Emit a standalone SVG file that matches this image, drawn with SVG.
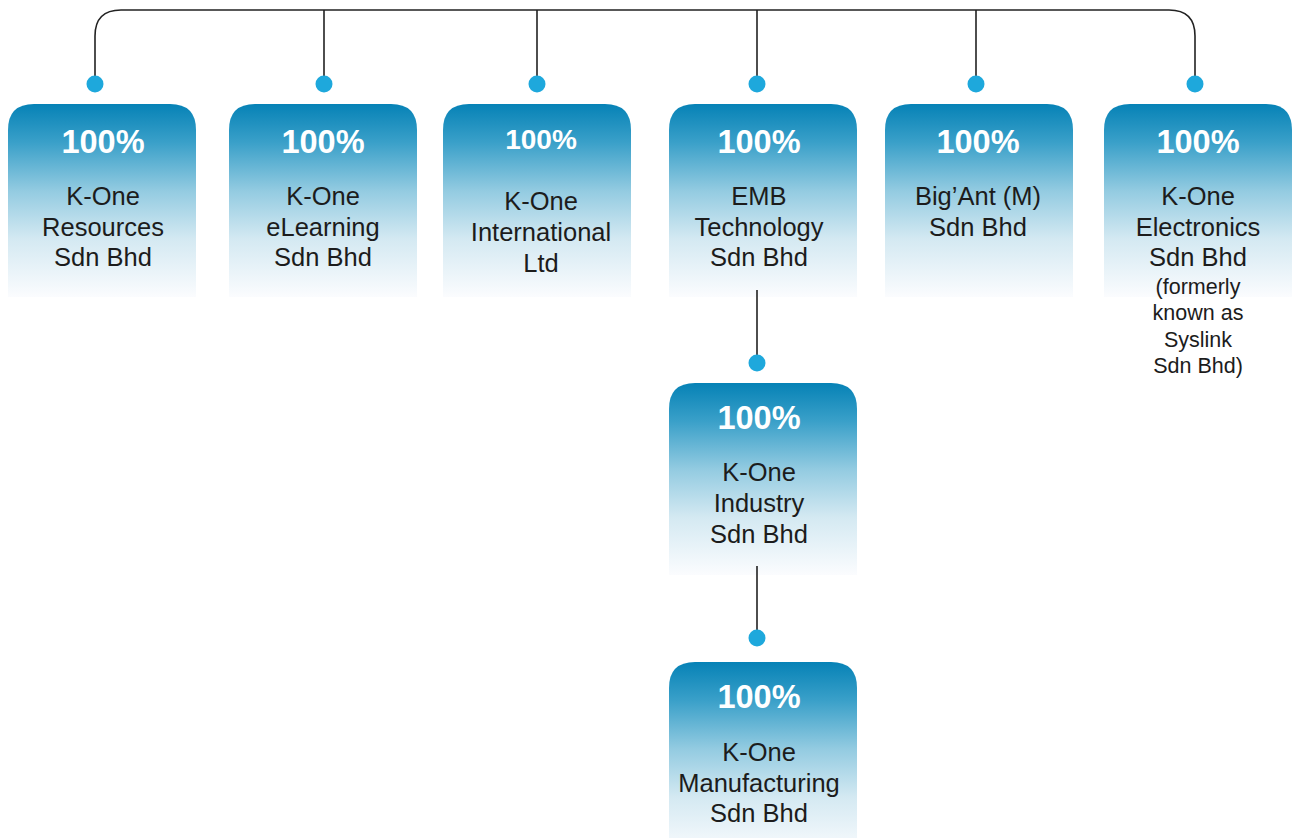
<svg xmlns="http://www.w3.org/2000/svg" width="1293" height="838" viewBox="0 0 1293 838">
<defs>
<linearGradient id="g" x1="0" y1="0" x2="0" y2="1">
<stop offset="0" stop-color="#0682b6"/>
<stop offset="0.2" stop-color="#3aa0c9"/>
<stop offset="0.45" stop-color="#93cbe1"/>
<stop offset="0.7" stop-color="#d4e9f2"/>
<stop offset="1" stop-color="#fbfcfe"/>
</linearGradient>
<style>
.box{fill:url(#g)}
.pct{font-family:"Liberation Sans",Arial,sans-serif;font-weight:bold;font-size:32.5px;fill:#ffffff;text-anchor:middle}
.nm{font-family:"Liberation Sans",Arial,sans-serif;font-size:25.5px;fill:#1c1c1c;text-anchor:middle}
.sm{font-family:"Liberation Sans",Arial,sans-serif;font-size:21.5px;fill:#1c1c1c;text-anchor:middle}
.ln{fill:none;stroke:#222222;stroke-width:1.6}
.dot{fill:#1ea8dc}
</style>
</defs>
<rect width="1293" height="838" fill="#ffffff"/>
<g id="resources">
<path class="box" d="M8,297 V130 Q8,104 34,104 H170 Q196,104 196,130 V297 Z"/>
<text class="pct" x="103" y="153">100%</text>
<text class="nm" x="103" y="205">K-One</text>
<text class="nm" x="103" y="236">Resources</text>
<text class="nm" x="103" y="266">Sdn Bhd</text>
</g>
<g id="elearning">
<path class="box" d="M229,297 V130 Q229,104 255,104 H391 Q417,104 417,130 V297 Z"/>
<text class="pct" x="323" y="153">100%</text>
<text class="nm" x="323" y="205">K-One</text>
<text class="nm" x="323" y="236">eLearning</text>
<text class="nm" x="323" y="266">Sdn Bhd</text>
</g>
<g id="international">
<path class="box" d="M443,297 V130 Q443,104 469,104 H605 Q631,104 631,130 V297 Z"/>
<text class="pct" x="541" y="149" style="font-size:28px">100%</text>
<text class="nm" x="541" y="210">K-One</text>
<text class="nm" x="541" y="241">International</text>
<text class="nm" x="541" y="272">Ltd</text>
</g>
<g id="emb">
<path class="box" d="M669,297 V130 Q669,104 695,104 H831 Q857,104 857,130 V297 Z"/>
<text class="pct" x="759" y="153">100%</text>
<text class="nm" x="759" y="205">EMB</text>
<text class="nm" x="759" y="236">Technology</text>
<text class="nm" x="759" y="266">Sdn Bhd</text>
</g>
<g id="bigant">
<path class="box" d="M885,297 V130 Q885,104 911,104 H1047 Q1073,104 1073,130 V297 Z"/>
<text class="pct" x="978" y="153">100%</text>
<text class="nm" x="978" y="205">Big’Ant (M)</text>
<text class="nm" x="978" y="236">Sdn Bhd</text>
</g>
<g id="electronics">
<path class="box" d="M1104,297 V130 Q1104,104 1130,104 H1266 Q1292,104 1292,130 V297 Z"/>
<text class="pct" x="1198" y="153">100%</text>
<text class="nm" x="1198" y="205">K-One</text>
<text class="nm" x="1198" y="236">Electronics</text>
<text class="nm" x="1198" y="266">Sdn Bhd</text>
<text class="sm" x="1198" y="294">(formerly</text>
<text class="sm" x="1198" y="320">known as</text>
<text class="sm" x="1198" y="347">Syslink</text>
<text class="sm" x="1198" y="373">Sdn Bhd)</text>
</g>
<g id="industry">
<path class="box" d="M669,575 V409 Q669,383 695,383 H831 Q857,383 857,409 V575 Z"/>
<text class="pct" x="759" y="429">100%</text>
<text class="nm" x="759" y="481">K-One</text>
<text class="nm" x="759" y="512">Industry</text>
<text class="nm" x="759" y="543">Sdn Bhd</text>
</g>
<g id="manufacturing">
<path class="box" d="M669,855 V688 Q669,662 695,662 H831 Q857,662 857,688 V855 Z"/>
<text class="pct" x="759" y="708">100%</text>
<text class="nm" x="759" y="761">K-One</text>
<text class="nm" x="759" y="792">Manufacturing</text>
<text class="nm" x="759" y="822">Sdn Bhd</text>
</g>
<g id="connectors">
<path class="ln" d="M95,84 V36 Q95,10 121,10 H1169 Q1195,10 1195,36 V84"/>
<path class="ln" d="M324,10 V84 M537,10 V84 M757,10 V84 M976,10 V84"/>
<path class="ln" d="M757,290 V363 M757,566 V638"/>
<circle class="dot" cx="95" cy="84" r="8.5"/>
<circle class="dot" cx="324" cy="84" r="8.5"/>
<circle class="dot" cx="537" cy="84" r="8.5"/>
<circle class="dot" cx="757" cy="84" r="8.5"/>
<circle class="dot" cx="976" cy="84" r="8.5"/>
<circle class="dot" cx="1195" cy="84" r="8.5"/>
<circle class="dot" cx="757" cy="363" r="8.5"/>
<circle class="dot" cx="757" cy="638" r="8.5"/>
</g>
</svg>
